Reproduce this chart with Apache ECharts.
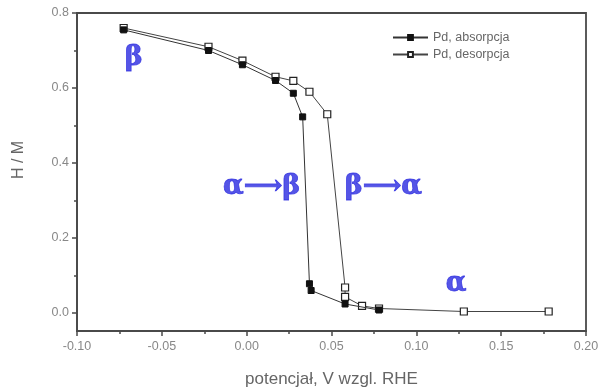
<!DOCTYPE html>
<html>
<head>
<meta charset="utf-8">
<script src="https://cdn.jsdelivr.net/npm/echarts@6/dist/echarts.min.js"></script>
<style>
  html, body { margin: 0; padding: 0; background: #fff; }
  #chart { width: 600px; height: 390px; }
</style>
</head>
<body>
<div id="chart"></div>
<script>
// Hydrogen content H/M of palladium vs. electrode potential
const absorpcjaX = [-0.0725, -0.0225, -0.0025, 0.017, 0.0275, 0.033, 0.037, 0.038, 0.058, 0.078];
const absorpcjaY = [0.755, 0.700, 0.662, 0.620, 0.586, 0.523, 0.078, 0.060, 0.024, 0.008];

const desorpcjaX = [0.178, 0.128, 0.078, 0.068, 0.058, 0.058, 0.0475, 0.037, 0.0275, 0.017, -0.0025, -0.0225, -0.0725];
const desorpcjaY = [0.004, 0.004, 0.012, 0.019, 0.043, 0.068, 0.530, 0.590, 0.619, 0.630, 0.673, 0.710, 0.760];

const xTicks = [-0.10, -0.05, 0.00, 0.05, 0.10, 0.15, 0.20];
const yTicks = [0.0, 0.2, 0.4, 0.6, 0.8];
const yMinorTicks = [0.1, 0.3, 0.5, 0.7];

// phase labels placed in data coordinates
const phaseText = ['β', 'α⟶β', 'β⟶α', 'α'];
const phaseX = [-0.0665, 0.0088, 0.0806, 0.1235];
const phaseY = [0.68, 0.336, 0.336, 0.077];

const pair = (xs, ys) => xs.map((x, i) => [x, ys[i]]);

const axisColor = '#4a4a4a';
const labelColor = '#888';
const font = 'Liberation Sans, Arial, sans-serif';
const phaseColor = '#2a2ae0';

const chart = echarts.init(document.getElementById('chart'));
chart.setOption({
  animation: false,
  backgroundColor: '#fff',
  grid: {
    left: 77, right: 14, top: 13, bottom: 59,
    outerBoundsMode: 'none', containLabel: false,
    show: true, borderColor: axisColor, borderWidth: 1.8, backgroundColor: 'transparent'
  },
  legend: {
    left: 392, top: 31, orient: 'vertical', padding: 0,
    itemWidth: 35, itemHeight: 6, itemGap: 4,
    textStyle: { fontFamily: font, fontSize: 12.5, color: '#666' },
    data: ['Pd, absorpcja', 'Pd, desorpcja']
  },
  xAxis: {
    type: 'value', min: xTicks[0], max: xTicks[xTicks.length - 1], interval: 0.05,
    name: 'potencjał, V wzgl. RHE', nameLocation: 'middle', nameGap: 40,
    nameTextStyle: { fontFamily: font, fontSize: 17, color: '#666' },
    axisLine: { show: true, onZero: false, lineStyle: { color: axisColor, width: 1.8 } },
    axisTick: { show: true, inside: false, length: 5, lineStyle: { color: axisColor, width: 1.5 } },
    minorTick: { show: true, splitNumber: 2, length: 3, lineStyle: { color: axisColor, width: 1.5 } },
    splitLine: { show: false },
    axisLabel: {
      fontFamily: font, fontSize: 12.5, color: labelColor, margin: 9,
      formatter: v => v.toFixed(2)
    }
  },
  yAxis: [{
    type: 'value', min: -0.048, max: 0.8,
    name: 'H / M', nameLocation: 'middle', nameGap: 50, nameRotate: 90,
    nameTextStyle: { fontFamily: font, fontSize: 16, color: '#666', padding: [0, 0, 0, 24] },
    axisLine: { show: true, onZero: false, lineStyle: { color: axisColor, width: 1.8 } },
    axisTick: { show: true, inside: false, length: 5, customValues: yTicks, lineStyle: { color: axisColor, width: 1.5 } },
    splitLine: { show: false },
    axisLabel: {
      fontFamily: font, fontSize: 12.5, color: labelColor, margin: 8,
      customValues: yTicks, formatter: v => v.toFixed(1)
    }
  }, {
    type: 'value', min: -0.048, max: 0.8, position: 'left',
    axisLine: { show: false, onZero: false },
    axisTick: { show: true, inside: false, length: 3, customValues: yMinorTicks, lineStyle: { color: axisColor, width: 1.5 } },
    axisLabel: { show: false },
    splitLine: { show: false }
  }],
  series: [{
    name: 'Pd, absorpcja', type: 'line', z: 3,
    data: pair(absorpcjaX, absorpcjaY),
    symbol: 'rect', symbolSize: 6,
    lineStyle: { color: '#333', width: 1 },
    itemStyle: { color: '#111', borderColor: '#111', borderWidth: 1 }
  }, {
    name: 'Pd, desorpcja', type: 'line', z: 2,
    data: pair(desorpcjaX, desorpcjaY),
    symbol: 'rect', symbolSize: 7,
    lineStyle: { color: '#444', width: 1 },
    itemStyle: { color: '#fff', borderColor: '#222', borderWidth: 1.2 }
  }, {
    type: 'scatter', silent: true, z: 5,
    symbolSize: 0,
    data: pair(phaseX, phaseY).map((p, i) => ({ value: p, name: phaseText[i] })),
    label: {
      show: true, position: 'inside', formatter: p => p.name,
      fontFamily: 'DejaVu Serif, Liberation Serif, serif', fontWeight: 'bold',
      fontSize: 27, color: phaseColor,
      textBorderColor: phaseColor, textBorderWidth: 0.8
    }
  }]
});
</script>
</body>
</html>
